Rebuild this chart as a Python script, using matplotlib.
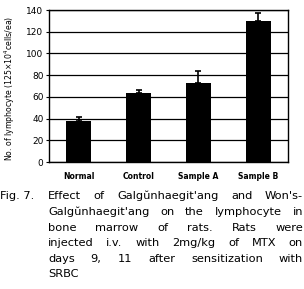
import numpy as np
import matplotlib.pyplot as plt

groups = ["Normal", "Control", "Sample A", "Sample B"]
means = [38, 64, 73, 130]
errs = [3, 2, 11, 7]
yticks = [0, 20, 40, 60, 80, 100, 120, 140]

caption_lines = [
    "Galgŭnhaegit'ang on the lymphocyte in",
    "bone marrow of rats. Rats were",
    "injected i.v. with 2mg/kg of MTX on",
    "days 9, 11 after sensitization with",
    "SRBC",
]
first_line = "Effect of Galgŭnhaegit'ang and Won's-"

W, H = 304, 289
fig = plt.figure(figsize=(W / 100, H / 100), dpi=100)
ax = fig.add_axes([49 / W, 1 - 162 / H, 239 / W, 152 / H])

x = np.arange(len(groups))
ax.bar(x, means, width=0.42, color="black", zorder=3)
ax.errorbar(x, means, yerr=[[0] * len(errs), errs], fmt="none", ecolor="black",
            elinewidth=1.2, capsize=2.5, capthick=1.2, zorder=4)

ax.set_xlim(-0.5, 3.5)
ax.set_ylim(0, 140)
ax.set_yticks(yticks)
ax.set_yticklabels([str(v) for v in yticks], fontsize=6.5)
ax.set_xticks(x)
ax.set_xticklabels(groups, fontsize=5.5, fontweight="bold")
ax.tick_params(axis="x", length=0, pad=7)
ax.tick_params(axis="y", length=2, pad=2)
ax.grid(True, axis="y", color="black", linewidth=0.9, zorder=1)
for s in ax.spines.values():
    s.set_linewidth(1.0)

fig.text(10 / W, 1 - 88 / H, "No. of lymphocyte (125×10$^4$cells/ea)", rotation=90,
         ha="center", va="center", fontsize=5.6)

# caption, justified between two x positions
renderer = fig.canvas.get_renderer()
left, right = 48, 303
fs = 8.2


def justify(line, y_px, last=False):
    words = line.split(" ")
    widths = []
    for w in words:
        t = fig.text(0, 0, w, fontsize=fs)
        widths.append(t.get_window_extent(renderer).width)
        t.remove()
    if last or len(words) == 1:
        gap = 4.5
    else:
        gap = (right - left - sum(widths)) / (len(words) - 1)
    xpos = left
    for w, wd in zip(words, widths):
        fig.text(xpos / W, 1 - y_px / H, w, fontsize=fs, va="center", ha="left")
        xpos += wd + gap


fig.text(0.5 / W, 1 - 196 / H, "Fig. 7.", fontsize=fs, va="center", ha="left")
justify(first_line, 196)
for i, line in enumerate(caption_lines):
    justify(line, 212 + i * 15.6, last=(i == len(caption_lines) - 1))

fig.savefig("out.png", dpi=100)
